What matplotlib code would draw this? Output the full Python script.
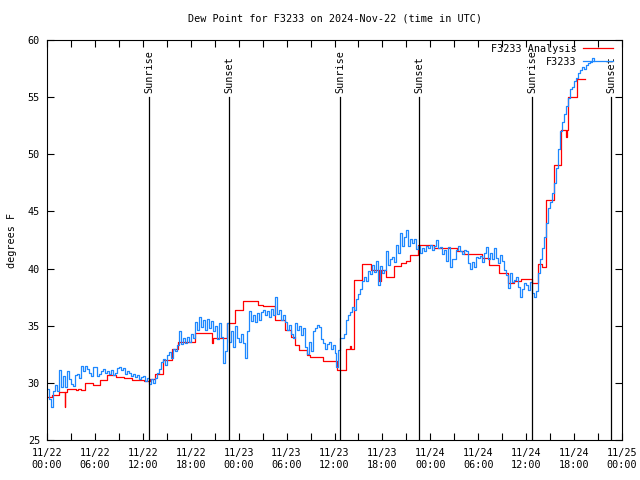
import numpy as np
import pandas as pd
import matplotlib
matplotlib.use("Agg")
import matplotlib.pyplot as plt
import matplotlib.dates as mdates

# hours since 2024-11-22 00:00 UTC
start = pd.Timestamp("2024-11-22 00:00")

# analysis (step changes)
analysis_hours = [0.0, 0.6, 1.5, 2.25, 2.3, 2.5, 3.6, 3.9, 4.2, 4.8, 5.7, 6.6, 7.5, 8.6,
                  9.6, 10.7, 12.1, 12.9, 13.5, 14.5, 15.6, 16.4, 18.5, 20.6, 20.8, 22.5,
                  23.6, 24.5, 26.4, 27.0, 28.5, 29.75, 30.6, 31.0, 31.6, 32.5, 32.9, 34.5,
                  36.3, 37.5, 37.9, 38.1, 38.5, 39.5, 40.6, 41.6, 41.8, 42.5, 43.5, 44.3,
                  45.0, 45.4, 46.4, 48.5, 51.4, 52.25, 54.5, 55.4, 56.6, 57.7, 58.5, 59.3,
                  60.7, 61.5, 62.0, 62.5, 63.5, 64.3, 65.0, 65.1, 65.2, 66.4, 67.4]
analysis_vals = [28.8, 28.9, 29.2, 27.9, 29.2, 29.5, 29.4, 29.5, 29.4, 30.0, 29.8, 30.25,
                 30.7, 30.5, 30.4, 30.25, 30.2, 30.3, 30.8, 32.0, 33.0, 33.6, 34.4, 33.5,
                 33.9, 35.2, 36.4, 37.15, 36.8, 36.7, 35.5, 34.6, 34.0, 33.3, 32.9, 32.4,
                 32.3, 31.9, 31.1, 33.0, 33.2, 33.0, 39.0, 40.4, 39.9, 38.9, 39.9, 39.3,
                 40.2, 40.5, 40.7, 41.2, 42.1, 41.8, 41.5, 41.3, 40.9, 40.3, 39.6, 38.7,
                 38.9, 39.1, 38.7, 40.4, 40.1, 46.0, 49.1, 52.1, 51.5, 52.1, 55.0, 56.6, 56.6]

# station observations, every 15 minutes
obs_vals = [
    29.5, 28.6, 27.9, 29.3,  29.8, 29.3, 31.1, 29.6,  30.6, 29.6, 31.0, 30.3,
    29.9, 29.7, 30.7, 30.8,  30.4, 31.5, 31.0, 31.5,  31.2, 30.9, 30.6, 31.4,
    31.4, 30.6, 30.8, 31.0,  31.2, 30.9, 31.0, 30.8,  31.1, 30.7, 30.9, 31.3,
    31.4, 31.1, 31.3, 30.8,  31.0, 30.9, 30.6, 30.8,  30.5, 30.7, 30.3, 30.5,
    30.6, 30.2, 30.4, 29.9,  30.3, 30.0, 30.4, 30.9,  31.2, 31.8, 32.1, 31.6,
    32.4, 32.7, 32.2, 33.0,  32.8, 33.3, 34.5, 33.4,  33.9, 33.5, 34.0, 33.6,
    34.3, 33.9, 35.3, 34.6,  35.8, 34.9, 35.5, 34.6,  35.6, 34.8, 35.4, 34.5,
    35.0, 33.8, 35.2, 34.0,  31.7, 32.8, 35.2, 33.6,  34.5, 33.1, 35.0, 33.9,
    33.6, 34.3, 33.5, 32.2,  34.5, 36.3, 35.4, 35.9,  35.3, 36.1, 35.5, 36.2,
    36.4, 35.9, 36.3, 35.8,  36.5, 35.9, 37.5, 36.0,  36.4, 35.5, 35.9, 35.3,
    34.6, 35.1, 34.3, 33.9,  35.2, 34.6, 35.0, 34.2,  34.8, 33.1, 32.5, 33.6,
    32.8, 34.5, 34.8, 35.1,  34.9, 33.8, 33.5, 33.0,  33.4, 33.6, 33.0, 33.3,
    32.6, 31.4, 32.9, 33.9,  33.9, 34.3, 35.5, 35.9,  36.2, 36.6, 36.4, 37.3,
    37.8, 38.2, 38.9, 39.3,  38.9, 39.8, 39.5, 40.3,  39.7, 40.7, 38.6, 40.2,
    39.6, 39.9, 41.5, 40.3,  40.8, 41.0, 40.6, 42.1,  41.4, 43.1, 42.0, 42.8,
    43.4, 42.0, 42.6, 42.2,  42.6, 41.7, 42.0, 41.4,  41.8, 41.5, 42.0, 41.8,
    42.1, 41.6, 42.0, 42.5,  41.8, 41.9, 41.3, 41.6,  40.7, 41.9, 40.1, 40.8,
    40.8, 41.6, 42.0, 41.5,  41.3, 41.6, 41.5, 40.5,  40.0, 40.6, 40.1, 41.0,
    40.9, 41.1, 40.6, 41.4,  41.9, 40.8, 41.4, 40.8,  41.8, 40.9, 40.5, 41.2,
    40.7, 39.9, 39.4, 38.3,  39.6, 38.8, 39.0, 39.3,  38.4, 37.5, 38.2, 38.7,
    38.6, 38.1, 38.8, 37.9,  37.5, 38.0, 39.6, 40.8,  41.8, 42.8, 44.0, 45.3,
    45.8, 46.6, 47.5, 48.8,  50.5, 52.0, 52.8, 53.5,  54.2, 54.9, 55.7, 55.9,
    56.4, 56.7, 57.1, 57.4,  57.6, 57.5, 57.8, 58.0,  58.1, 58.4, 58.2,
]
obs_hours = np.arange(len(obs_vals)) * 0.25

sunrise_hours = [12.77, 36.75, 60.75]
sunset_hours = [22.8, 46.62, 70.66]

analysis_t = start + pd.to_timedelta(analysis_hours, unit="h")
obs_t = start + pd.to_timedelta(obs_hours, unit="h")

plt.rcParams['font.family'] = ['DejaVu Sans Mono']
fs = 7.3

fig = plt.figure(figsize=(6.4, 4.8), dpi=100)
ax = fig.add_axes([47 / 640, 1 - 440 / 480, 575 / 640, 400 / 480])

ax.plot(analysis_t, analysis_vals, color='#ff0000', lw=0.9, drawstyle='steps-post',
        label='F3233 Analysis')
ax.plot(obs_t, obs_vals, color='#1e88ff', lw=0.9, drawstyle='steps-post', label='F3233')

for name, hrs in (('Sunrise', sunrise_hours), ('Sunset', sunset_hours)):
    for h in hrs:
        t = start + pd.Timedelta(hours=h)
        ax.plot([t, t], [25, 55], color='black', lw=0.9)
        ax.text(t, 55.4, name, rotation=90, ha='center', va='bottom', fontsize=fs)

ax.set_xlim(start, start + pd.Timedelta(hours=72))
ax.set_ylim(25, 60)
ax.set_yticks(range(25, 61, 5))
ax.xaxis.set_major_locator(mdates.HourLocator(byhour=[0, 6, 12, 18]))
ax.xaxis.set_minor_locator(mdates.HourLocator(byhour=[3, 9, 15, 21]))
ax.xaxis.set_major_formatter(mdates.DateFormatter('%m/%d\n%H:%M'))
ax.tick_params(which='both', direction='in', top=True, right=True, length=5,
               width=0.8, labelsize=fs)
ax.tick_params(axis='x', pad=6)
ax.tick_params(axis='y', pad=5)
for s in ax.spines.values():
    s.set_linewidth(0.8)

ax.set_ylabel('degrees F', fontsize=fs, labelpad=8)
ax.set_title('Dew Point for F3233 on 2024-Nov-22 (time in UTC)', fontsize=fs, pad=13)
ax.legend(loc='upper right', bbox_to_anchor=(0.985, 0.99), frameon=False,
          markerfirst=False, fontsize=fs, handlelength=3.0, handletextpad=0.6,
          labelspacing=0.3, borderaxespad=0.0, borderpad=0.0)

fig.savefig('out.png', dpi=100)
